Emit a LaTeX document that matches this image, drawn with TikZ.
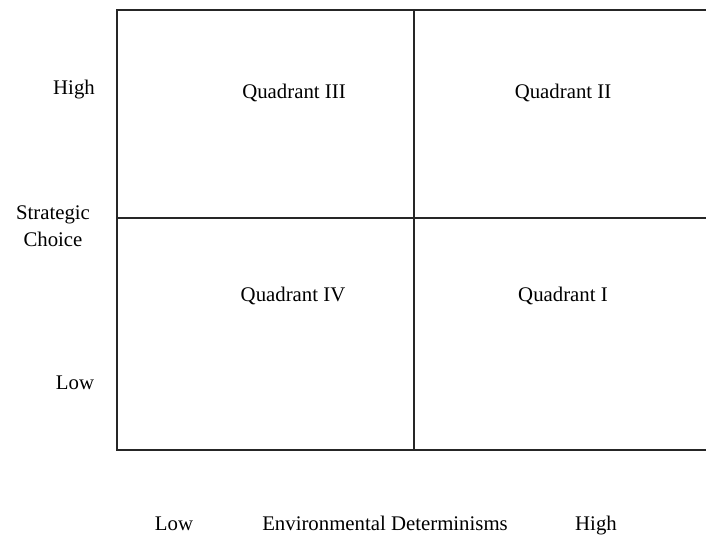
\documentclass[tikz,border=0pt]{standalone}
\usepackage{fontspec}
\setmainfont{Liberation Serif}
\begin{document}
\begin{tikzpicture}[x=1pt,y=-1pt,
  lbl/.style={inner sep=0pt,font=\fontsize{20.8}{26.5}\selectfont},
  grid/.style={line width=1.4pt,black!85}]
\useasboundingbox (0,0) rectangle (706,544);
% frame and dividers
\draw[grid] (706,10) -- (117,10) -- (117,450) -- (706,450);
\draw[grid] (414,10) -- (414,450);
\draw[grid] (117,218) -- (706,218);
% quadrant labels
\node[lbl] (q3) at (294,93) {Quadrant III};
\node[lbl] (q2) at (563,93) {Quadrant II};
\node[lbl] (q4) at (293,296) {Quadrant IV};
\node[lbl] (q1) at (563,296) {Quadrant I};
% vertical axis labels
\node[lbl] (yhigh) at (74,90) {High};
\node[lbl,align=center] (ychoice) at (53,226) {Strategic\\Choice};
\node[lbl] (ylow) at (75,383) {Low};
% horizontal axis labels
\node[lbl,anchor=base] (xlow) at (174,530) {Low};
\node[lbl,anchor=base] (xenv) at (385,530) {Environmental Determinisms};
\node[lbl,anchor=base] (xhigh) at (596,530) {High};
\end{tikzpicture}
\end{document}
